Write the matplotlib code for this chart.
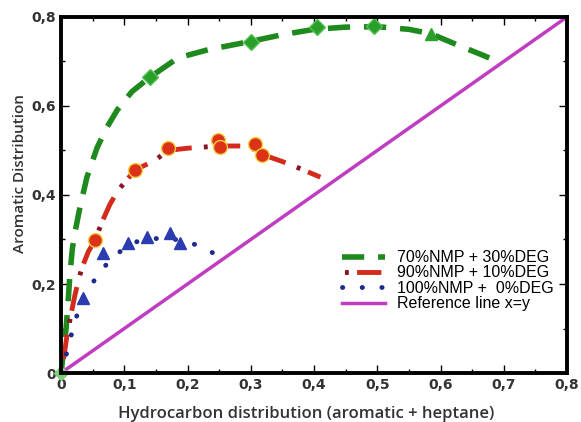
import matplotlib.pyplot as plt
from matplotlib.ticker import MultipleLocator
from matplotlib.legend_handler import HandlerTuple

# Curve paths
green_x = [0, 0.004, 0.008, 0.011, 0.014, 0.018, 0.022, 0.030, 0.041, 0.057, 0.073, 0.089,
           0.112, 0.141, 0.185, 0.232, 0.30, 0.35, 0.40, 0.45, 0.50, 0.55, 0.585, 0.63, 0.665, 0.695]
green_y = [0, 0.05, 0.10, 0.155, 0.22, 0.28, 0.315, 0.373, 0.44, 0.506, 0.553, 0.591,
           0.632, 0.665, 0.708, 0.726, 0.745, 0.76, 0.772, 0.777, 0.778, 0.772, 0.762, 0.735, 0.715, 0.697]
green_dx = [0.141, 0.300, 0.405, 0.495]
green_dy = [0.665, 0.744, 0.778, 0.780]
green_tx = [0.585]
green_ty = [0.762]

red_x = [0, 0.005, 0.010, 0.017, 0.022, 0.028, 0.033, 0.043, 0.054, 0.065, 0.077, 0.09,
         0.117, 0.149, 0.169, 0.20, 0.25, 0.29, 0.31, 0.33, 0.36, 0.39, 0.41]
red_y = [0, 0.04, 0.09, 0.14, 0.175, 0.21, 0.236, 0.272, 0.299, 0.34, 0.378, 0.41,
         0.456, 0.478, 0.500, 0.505, 0.51, 0.51, 0.50, 0.485, 0.47, 0.452, 0.44]
red_mx = [0.054, 0.117, 0.169, 0.248, 0.251, 0.307, 0.318]
red_my = [0.299, 0.456, 0.506, 0.524, 0.508, 0.515, 0.490]

blue_x = [0, 0.009, 0.021, 0.035, 0.054, 0.065, 0.07, 0.098, 0.12, 0.15, 0.172, 0.19, 0.215, 0.24]
blue_y = [0, 0.045, 0.112, 0.17, 0.211, 0.234, 0.241, 0.279, 0.295, 0.302, 0.305, 0.295, 0.288, 0.27]
blue_mx = [0.035, 0.067, 0.106, 0.136, 0.172, 0.188]
blue_my = [0.168, 0.270, 0.292, 0.306, 0.314, 0.292]

ref_x = [0, 0.8]
xtick_vals = [0, 0.1, 0.2, 0.3, 0.4, 0.5, 0.6, 0.7, 0.8]
xtick_labels = ["0", "0,1", "0,2", "0,3", "0,4", "0,5", "0,6", "0,7", "0,8"]
ytick_vals = [0, 0.2, 0.4, 0.6, 0.8]
ytick_labels = ["0", "0,2", "0,4", "0,6", "0,8"]

fig = plt.figure(figsize=(5.81, 4.22), dpi=100)
ax = fig.add_axes([0.105, 0.116, 0.871, 0.844])

g, = ax.plot(green_x, green_y, color="#1e8a1e", lw=4, dashes=(4, 2.5))
# red line: small dark dot followed by a red dash
r1, = ax.plot(red_x, red_y, color="#d42a1c", lw=3.5, linestyle=(7, (5, 5)))
r2, = ax.plot(red_x, red_y, color="#8a1424", lw=3.5, linestyle=(9.5, (0.8, 9.2)))
b, = ax.plot(blue_x, blue_y, color="#1c2a8c", lw=3.5, linestyle=(0, (0.05, 4)),
             dash_capstyle="round")
ref, = ax.plot(ref_x, ref_x, color="#c03cc0", lw=2.5)

ax.plot(green_dx, green_dy, "D", color="#2aa02a", ms=8, mec="#55c055", ls="none")
ax.plot(green_tx, green_ty, "^", color="#2aa02a", ms=9, ls="none")
ax.plot([0], [0], "D", color="#7ad07a", ms=7, ls="none", clip_on=False)
ax.plot(red_mx, red_my, "o", color="#dc3318", ms=10, mec="#f0d040", mew=1, ls="none")
ax.plot(blue_mx, blue_my, "^", color="#2a3cb0", ms=9, ls="none")

ax.set_xlim(0, 0.8)
ax.set_ylim(0, 0.8)
ax.set_xticks(xtick_vals)
ax.set_xticklabels(xtick_labels)
ax.set_yticks(ytick_vals)
ax.set_yticklabels(ytick_labels)
ax.xaxis.set_minor_locator(MultipleLocator(0.05))
ax.yaxis.set_minor_locator(MultipleLocator(0.1))
ax.tick_params(which="both", direction="in", top=True, right=True, width=1)
ax.tick_params(which="major", length=6, labelsize=10)
ax.tick_params(which="minor", length=3)
for lab in ax.get_xticklabels() + ax.get_yticklabels():
    lab.set_fontweight("bold")
    lab.set_color("#333333")
for s in ax.spines.values():
    s.set_linewidth(2.8)

ax.set_xlabel("Hydrocarbon distribution (aromatic + heptane)", fontsize=12,
              family="Open Sans", fontweight="semibold", color="#333333")
ax.xaxis.set_label_coords(0.484, -0.093)
ax.set_ylabel("Aromatic Distribution", fontsize=11, family="Open Sans",
              fontweight="semibold", color="#333333")
ax.yaxis.set_label_coords(-0.067, 0.56)

ax.legend([g, (r2, r1), b, ref],
          ["70%NMP + 30%DEG", "90%NMP + 10%DEG", "100%NMP +  0%DEG", "Reference line x=y"],
          handler_map={tuple: HandlerTuple(ndivide=1)},
          loc="upper left", bbox_to_anchor=(0.555, 0.345), borderaxespad=0, borderpad=0,
          frameon=False, prop={"family": "Liberation Sans", "size": 11.5},
          handlelength=2.7, labelspacing=0.02, handletextpad=0.75)

fig.savefig("out.png", dpi=100)
